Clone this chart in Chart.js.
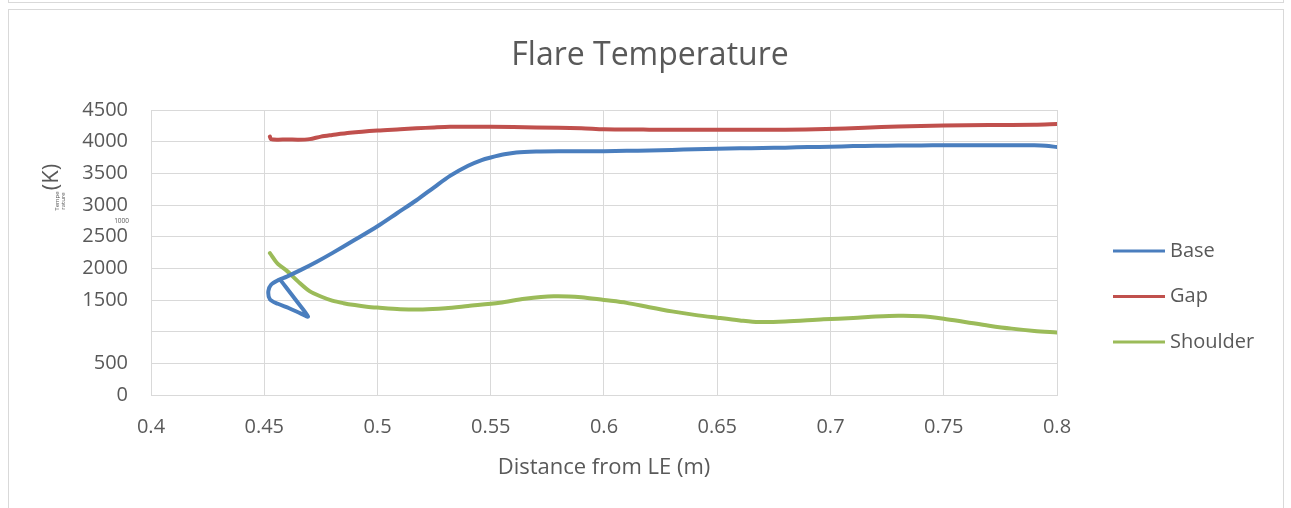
<!DOCTYPE html>
<html>
<head>
<meta charset="utf-8">
<title>Flare Temperature</title>
<script src="https://cdn.jsdelivr.net/npm/chart.js@4/dist/chart.umd.min.js"></script>
<style>
  html, body { margin: 0; padding: 0; background: #fff; }
  body { width: 1291px; height: 508px; position: relative; overflow: hidden; }
  .frame { position: absolute; border: 1px solid #d9d9d9; box-sizing: border-box; }
  #prev { left: 8px; top: -30px; width: 1276px; height: 33px; }
  #box { left: 8px; top: 9px; width: 1276px; height: 520px; }
  canvas { position: absolute; left: 0; top: 0; }
</style>
</head>
<body>
<div class="frame" id="prev"></div>
<div class="frame" id="box"></div>
<canvas id="chart" width="1291" height="508"></canvas>
<script>
// Flare temperature along the surface, three probe lines.
const baseX = [0.4577,0.4635,0.4693,0.4660,0.4610,0.4560,0.4525,0.4518,0.4530,0.4560,0.4600,0.4662,0.4730,0.4800,0.4900,0.5000,0.5086,0.5172,0.5250,0.5320,0.5400,0.5460,0.5500,0.5560,0.5613,0.5700,0.5800,0.5900,0.6000,0.6100,0.6200,0.6300,0.6400,0.6500,0.6600,0.6700,0.6800,0.6900,0.7000,0.7100,0.7200,0.7300,0.7400,0.7500,0.7600,0.7700,0.7800,0.7900,0.7950,0.8000];
const baseY = [1790,1520,1240,1290,1370,1440,1510,1640,1740,1810,1870,1975,2100,2240,2450,2665,2870,3075,3280,3460,3620,3710,3750,3800,3830,3845,3850,3848,3850,3855,3862,3870,3880,3888,3895,3900,3905,3915,3920,3930,3935,3938,3940,3945,3945,3945,3945,3942,3935,3915];

const gapX = [0.4525,0.4530,0.4560,0.4600,0.4650,0.4700,0.4750,0.4800,0.4878,0.5000,0.5100,0.5172,0.5250,0.5320,0.5500,0.5700,0.5900,0.6000,0.6200,0.6500,0.6800,0.6980,0.7150,0.7300,0.7500,0.7700,0.7900,0.8000];
const gapY = [4080,4040,4030,4035,4030,4040,4080,4105,4140,4175,4195,4210,4225,4235,4235,4225,4212,4195,4190,4190,4190,4200,4220,4240,4255,4262,4268,4280];

const shoulderX = [0.4525,0.4560,0.4600,0.4650,0.4700,0.4750,0.4800,0.4850,0.4900,0.4952,0.5000,0.5100,0.5200,0.5300,0.5400,0.5540,0.5650,0.5778,0.5900,0.6000,0.6100,0.6200,0.6300,0.6400,0.6500,0.6600,0.6683,0.6800,0.6969,0.7100,0.7200,0.7300,0.7400,0.7500,0.7600,0.7700,0.7800,0.7900,0.8000];
const shoulderY = [2240,2070,1960,1790,1640,1555,1490,1450,1420,1395,1380,1355,1350,1370,1405,1455,1520,1560,1545,1500,1455,1385,1320,1265,1220,1178,1152,1160,1195,1215,1238,1252,1245,1205,1150,1095,1048,1012,988];

const seriesNames = ['Base', 'Gap', 'Shoulder'];
const seriesColors = ['#4a7ebe', '#c0504d', '#9bbb59'];
const xTicks = [0.4, 0.45, 0.5, 0.55, 0.6, 0.65, 0.7, 0.75, 0.8];
const yTicks = [0, 500, 1000, 1500, 2000, 2500, 3000, 3500, 4000, 4500];

const FONT = '"Open Sans", "DejaVu Sans", sans-serif';
const TEXT = '#595959';
const GRID = '#d9d9d9';

const pts = (xs, ys) => xs.map((x, i) => ({ x: x, y: ys[i] }));
const seriesData = [pts(baseX, baseY), pts(gapX, gapY), pts(shoulderX, shoulderY)];

// Title, the split y-axis caption, the stray "1000" label and the legend.
const decorations = {
  id: 'decorations',
  afterDraw(chart) {
    const ctx = chart.ctx;
    ctx.save();
    ctx.fillStyle = TEXT;

    ctx.font = '32px ' + FONT;
    ctx.textAlign = 'center';
    ctx.textBaseline = 'middle';
    ctx.fillText('Flare Temperature', 650, 56);

    // y-axis caption
    ctx.save();
    ctx.translate(52, 177);
    ctx.rotate(-Math.PI / 2);
    ctx.font = '22px ' + FONT;
    ctx.fillText('(K)', 0, 0);
    ctx.restore();
    ctx.save();
    ctx.translate(60, 201);
    ctx.rotate(-Math.PI / 2);
    ctx.font = '6px ' + FONT;
    ctx.fillText('Tempe', 0, -2.5);
    ctx.fillText('rature', 0, 3.5);
    ctx.restore();

    // the 1000 tick label, shrunk and shifted up
    ctx.font = '6.5px ' + FONT;
    ctx.textAlign = 'right';
    ctx.fillText(String(yTicks[2]), 129, 221);

    // legend
    ctx.font = '20px ' + FONT;
    ctx.textAlign = 'left';
    chart.data.datasets.forEach((ds, i) => {
      const ly = 251 + i * 45.5;
      ctx.strokeStyle = ds.borderColor;
      ctx.lineWidth = 3;
      ctx.beginPath();
      ctx.moveTo(1113, ly);
      ctx.lineTo(1165, ly);
      ctx.stroke();
      ctx.fillText(ds.label, 1170, ly);
    });
    ctx.restore();
  }
};

new Chart(document.getElementById('chart'), {
  type: 'scatter',
  data: {
    datasets: seriesNames.map((name, i) => ({
      label: name,
      data: seriesData[i],
      showLine: true,
      borderColor: seriesColors[i],
      backgroundColor: seriesColors[i],
      borderWidth: 4,
      pointRadius: 0,
      tension: 0.3,
      borderCapStyle: 'round',
      borderJoinStyle: 'round'
    }))
  },
  options: {
    responsive: false,
    animation: false,
    devicePixelRatio: 1,
    layout: { padding: { top: 110, right: 234, left: 0, bottom: 0 } },
    plugins: {
      legend: { display: false },
      tooltip: { enabled: false },
      title: { display: false }
    },
    scales: {
      x: {
        type: 'linear',
        min: 0.4,
        max: 0.8,
        afterBuildTicks(scale) { scale.ticks = xTicks.map(v => ({ value: v })); },
        afterFit(scale) { scale.height = 113; },
        grid: { color: GRID, lineWidth: 1, drawTicks: false },
        border: { color: GRID },
        ticks: {
          padding: 20,
          color: TEXT,
          font: { family: FONT, size: 20 },
          callback: v => String(Number(v.toFixed(2)))
        },
        title: {
          display: true,
          text: 'Distance from LE (m)',
          color: TEXT,
          font: { family: FONT, size: 22 },
          padding: { top: 0, bottom: 27 }
        }
      },
      y: {
        type: 'linear',
        min: 0,
        max: 4500,
        afterBuildTicks(scale) { scale.ticks = yTicks.map(v => ({ value: v })); },
        afterFit(scale) { scale.width = 151; },
        grid: { color: GRID, lineWidth: 1, drawTicks: false },
        border: { color: GRID },
        ticks: {
          padding: 23,
          color: TEXT,
          font: { family: FONT, size: 20 },
          callback: v => (v === 1000 ? '' : String(v))
        }
      }
    }
  },
  plugins: [decorations]
});
</script>
</body>
</html>
